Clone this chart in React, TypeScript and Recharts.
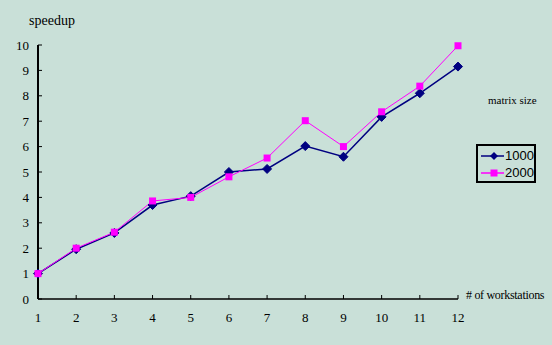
import React from "react";
import { LineChart, Line, XAxis, YAxis } from "recharts";

const workstations = [1, 2, 3, 4, 5, 6, 7, 8, 9, 10, 11, 12];
const size1000 = [1.0, 1.96, 2.6, 3.7, 4.05, 5.0, 5.12, 6.02, 5.6, 7.17, 8.1, 9.15];
const size2000 = [1.0, 2.0, 2.63, 3.86, 4.0, 4.81, 5.55, 7.02, 6.0, 7.37, 8.38, 9.97];
const speedupTicks = [0, 1, 2, 3, 4, 5, 6, 7, 8, 9, 10];
const seriesNames = ["1000", "2000"];

const data = workstations.map((n, i) => ({
  n,
  s1000: size1000[i],
  s2000: size2000[i]
}));

const BG = "#c9e0d8";
const NAVY = "#000080";
const MAGENTA = "#ff00ff";
const FONT = "'Liberation Serif', 'Times New Roman', serif";

const Diamond = (props: any) => {
  const { cx, cy } = props;
  if (cx == null || cy == null) return null;
  return (
    <polygon
      points={`${cx},${cy - 4.5} ${cx + 4.5},${cy} ${cx},${cy + 4.5} ${cx - 4.5},${cy}`}
      fill={NAVY}
      stroke={NAVY}
    />
  );
};

const Square = (props: any) => {
  const { cx, cy } = props;
  if (cx == null || cy == null) return null;
  return <rect x={cx - 3.5} y={cy - 3.5} width={7} height={7} fill={MAGENTA} />;
};

const LegendBox = () => (
  <div
    style={{
      position: "absolute",
      left: 476,
      top: 144,
      border: "2px solid #000",
      width: 60,
      height: 39,
      boxSizing: "border-box",
      fontFamily: "'Liberation Sans', Arial, sans-serif",
      fontSize: 13,
      padding: "1px 0 0 3px"
    }}
  >
    {seriesNames.map((name, i) => (
      <div key={name} style={{ display: "flex", alignItems: "center", height: 17 }}>
        <svg width={26} height={10} style={{ marginRight: 1 }}>
          <line x1={0} y1={5} x2={26} y2={5} stroke={i === 0 ? NAVY : MAGENTA} strokeWidth={1.5} />
          {i === 0 ? (
            <polygon points="13,1 17,5 13,9 9,5" fill={NAVY} />
          ) : (
            <rect x={9.5} y={1.5} width={7} height={7} fill={MAGENTA} />
          )}
        </svg>
        <span>{name}</span>
      </div>
    ))}
  </div>
);

export default function App() {
  return (
    <div
      style={{
        position: "absolute",
        left: 0,
        top: 0,
        width: 552,
        height: 345,
        background: BG,
        fontFamily: FONT
      }}
    >
      <LineChart
        width={552}
        height={345}
        data={data}
        margin={{ top: 45, right: 94, bottom: 16, left: 8 }}
      >
        <XAxis
          dataKey="n"
          type="number"
          domain={[1, 12]}
          ticks={workstations}
          stroke="#000"
          tickSize={-4}
          tickMargin={18}
          height={30}
          tick={{ fill: "#000", fontSize: 13, fontFamily: FONT }}
          axisLine={{ stroke: "#000", strokeWidth: 1.5 }}
        />
        <YAxis
          type="number"
          domain={[0, 10]}
          ticks={speedupTicks}
          width={30}
          stroke="#000"
          tickSize={-4}
          tickMargin={13}
          tick={{ fill: "#000", fontSize: 13, fontFamily: FONT }}
          axisLine={{ stroke: "#000", strokeWidth: 2 }}
        />
        <Line
          dataKey="s1000"
          name={seriesNames[0]}
          stroke={NAVY}
          strokeWidth={1.5}
          dot={<Diamond />}
          isAnimationActive={false}
        />
        <Line
          dataKey="s2000"
          name={seriesNames[1]}
          stroke={MAGENTA}
          strokeWidth={1}
          dot={<Square />}
          isAnimationActive={false}
        />
      </LineChart>
      <LegendBox />
      <div style={{ position: "absolute", left: 29, top: 13, fontSize: 14 }}>speedup</div>
      <div style={{ position: "absolute", left: 488, top: 94, fontSize: 11, whiteSpace: "nowrap" }}>
        matrix size
      </div>
      <div
        style={{
          position: "absolute",
          left: 466,
          top: 288,
          fontSize: 12,
          letterSpacing: -0.3,
          whiteSpace: "nowrap"
        }}
      >
        # of workstations
      </div>
    </div>
  );
}
